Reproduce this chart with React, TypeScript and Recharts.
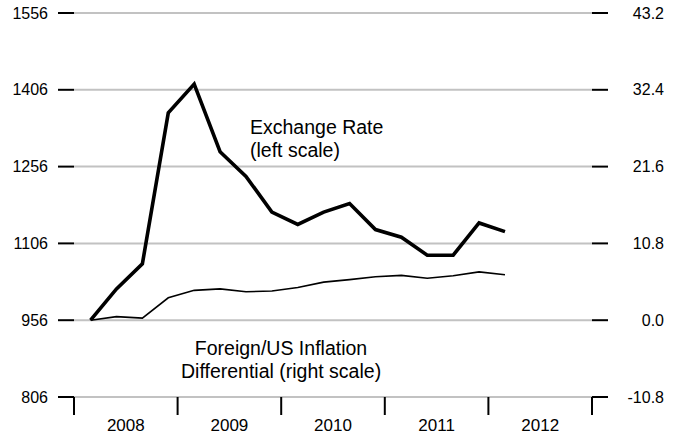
import { LineChart, Line, XAxis, YAxis, CartesianGrid } from 'recharts';

// quarterly observations, positioned as fractional years
const dates = [
  2008.16, 2008.41, 2008.66, 2008.91, 2009.16, 2009.41, 2009.66, 2009.91, 2010.16,
  2010.41, 2010.66, 2010.91, 2011.16, 2011.41, 2011.66, 2011.91, 2012.16,
];
const exchangeRate = [956, 1017, 1066, 1361, 1417, 1285, 1237, 1167, 1143, 1167, 1184, 1133, 1118, 1083, 1083, 1146, 1129];
const inflationDiff = [0, 0.5, 0.3, 3.15, 4.2, 4.4, 4.0, 4.1, 4.6, 5.35, 5.7, 6.1, 6.3, 5.9, 6.25, 6.8, 6.4];

const leftTicks = [806, 956, 1106, 1256, 1406, 1556];
const rightTicks = [-10.8, 0, 10.8, 21.6, 32.4, 43.2];
const years = [2008, 2009, 2010, 2011, 2012, 2013];
// year boundaries get a tick mark, mid-year positions carry the label
const xTicks = [...years, ...years.slice(0, -1).map((y) => y + 0.5)];

const data = dates.map((d, i) => ({ date: d, rate: exchangeRate[i], infl: inflationDiff[i] }));

const FONT = '"Liberation Sans", Arial, Helvetica, sans-serif';

const YearTick = (props: any) => {
  const { x, y, payload } = props;
  const v = payload.value;
  if (Number.isInteger(v)) {
    return <line x1={x} x2={x} y1={y} y2={y + 18} stroke="#000" strokeWidth={2} />;
  }
  return (
    <text x={x} y={y + 34} textAnchor="middle" fontSize={17} fill="#000" fontFamily={FONT}>
      {Math.floor(v)}
    </text>
  );
};

const RightTick = (props: any) => {
  const { x, y, payload } = props;
  return (
    <text x={x + 54} y={y} dy="0.355em" textAnchor="end" fontSize={16} fill="#000" fontFamily={FONT}>
      {payload.value.toFixed(1)}
    </text>
  );
};

const noteStyle: React.CSSProperties = {
  position: 'absolute',
  fontFamily: FONT,
  fontSize: 19.5,
  lineHeight: '23px',
  color: '#000',
  whiteSpace: 'nowrap',
};

export default function App() {
  return (
    <div style={{ position: 'absolute', left: 0, top: 0, width: 683, height: 435, background: '#fff' }}>
      <LineChart width={683} height={435} data={data} margin={{ top: 13, right: 0, bottom: 0, left: 0 }}>
        <CartesianGrid yAxisId="left" vertical={false} stroke="#c2c2c2" strokeWidth={2} />
        <XAxis
          dataKey="date"
          type="number"
          domain={[2008, 2013]}
          ticks={xTicks}
          interval={0}
          height={38}
          axisLine={false}
          tickLine={false}
          tickSize={0}
          tickMargin={0}
          tick={<YearTick />}
        />
        <YAxis
          yAxisId="left"
          domain={[806, 1556]}
          ticks={leftTicks}
          width={74}
          axisLine={false}
          tickSize={16}
          tickMargin={10}
          tickLine={{ stroke: '#000', strokeWidth: 2 }}
          tick={{ fill: '#000', fontSize: 16, fontFamily: FONT }}
        />
        <YAxis
          yAxisId="right"
          orientation="right"
          domain={[-10.8, 43.2]}
          ticks={rightTicks}
          width={91}
          axisLine={false}
          tickSize={16}
          tickMargin={2}
          tickLine={{ stroke: '#000', strokeWidth: 2 }}
          tick={<RightTick />}
        />
        <Line
          yAxisId="right"
          dataKey="infl"
          stroke="#000"
          strokeWidth={1.6}
          dot={false}
          strokeLinejoin="miter"
          isAnimationActive={false}
        />
        <Line
          yAxisId="left"
          dataKey="rate"
          stroke="#000"
          strokeWidth={3.6}
          dot={false}
          strokeLinejoin="miter"
          isAnimationActive={false}
        />
      </LineChart>
      <div style={{ ...noteStyle, left: 250, top: 116 }}>
        Exchange Rate
        <br />
        (left scale)
      </div>
      <div style={{ ...noteStyle, left: 181, width: 200, top: 337, textAlign: 'center' }}>
        Foreign/US Inflation
        <br />
        Differential (right scale)
      </div>
    </div>
  );
}
